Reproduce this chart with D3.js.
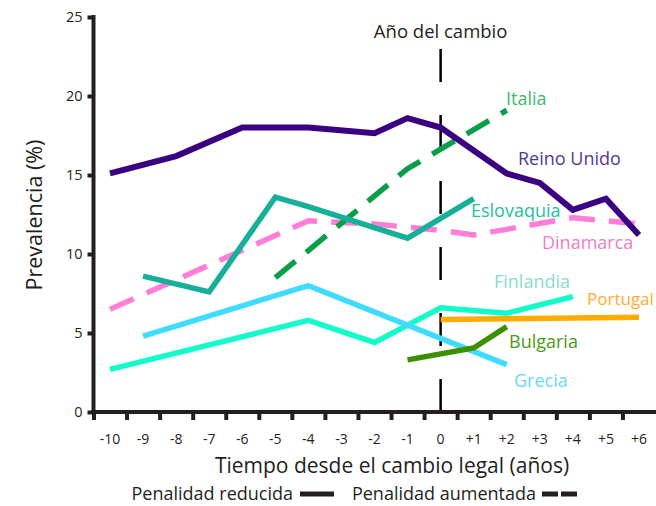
<!DOCTYPE html>
<html>
<head>
<meta charset="utf-8">
<script src="https://cdn.jsdelivr.net/npm/d3@7"></script>
<style>
  body { margin: 0; background: #fff; }
  text { font-family: "Open Sans", Lato, sans-serif; }
</style>
</head>
<body>
<script>
// years relative to the legal change, and prevalence (%)
const reinoUnidoT = [-10, -8, -6, -4, -2, -1, 0, 2, 3, 4, 5, 6];
const reinoUnidoV = [15.1, 16.2, 18.0, 18.0, 17.65, 18.6, 18.0, 15.1, 14.5, 12.8, 13.5, 11.2];

const eslovaquiaT = [-9, -7, -5, -4, -1, 1];
const eslovaquiaV = [8.6, 7.6, 13.6, 13.0, 11.0, 13.5];

const dinamarcaT = [-10, -4, -2, 0, 1, 4, 6];
const dinamarcaV = [6.5, 12.1, 11.9, 11.5, 11.2, 12.3, 11.9];

const italiaT = [-5, -1, 2];
const italiaV = [8.5, 15.4, 19.1];

const finlandiaT = [-10, -4, -2, 0, 2, 4];
const finlandiaV = [2.7, 5.8, 4.4, 6.6, 6.25, 7.3];

const greciaT = [-9, -4, 2];
const greciaV = [4.8, 8.0, 3.0];

const portugalT = [0, 6];
const portugalV = [5.85, 6.0];

const bulgariaT = [-1, 1, 2];
const bulgariaV = [3.3, 4.05, 5.4];

const xTickLabels = ["-10","-9","-8","-7","-6","-5","-4","-3","-2","-1","0","+1","+2","+3","+4","+5","+6"];
const yTicks = [0, 5, 10, 15, 20, 25];

const series = [
  {name: "Dinamarca", t: dinamarcaT, v: dinamarcaV, color: "#ff7ed8", label: "#f27cc6", dashed: true, lx: 542, ly: 249},
  {name: "Italia", t: italiaT, v: italiaV, color: "#0b9e48", label: "#36bb6c", dashed: true, lx: 506, ly: 105},
  {name: "Eslovaquia", t: eslovaquiaT, v: eslovaquiaV, color: "#15b097", label: "#1dbf9f", dashed: false, lx: 471, ly: 217},
  {name: "Finlandia", t: finlandiaT, v: finlandiaV, color: "#14fbcb", label: "#86ddcc", dashed: false, lx: 494, ly: 288},
  {name: "Grecia", t: greciaT, v: greciaV, color: "#40dcff", label: "#6cd8f4", dashed: false, lx: 514, ly: 387},
  {name: "Portugal", t: portugalT, v: portugalV, color: "#ffab00", label: "#ffad2e", dashed: false, lx: 587, ly: 305, size: 17},
  {name: "Bulgaria", t: bulgariaT, v: bulgariaV, color: "#3c9000", label: "#4a9a14", dashed: false, lx: 509, ly: 348},
  {name: "Reino Unido", t: reinoUnidoT, v: reinoUnidoV, color: "#3a0082", label: "#4f3b94", dashed: false, lx: 518, ly: 165}
];

const W = 656, H = 506;
const axisColor = "#231f20";

const svg = d3.select("body").append("svg")
    .attr("width", W)
    .attr("height", H);

const x = d3.scaleLinear().domain([-10.5, 6.5]).range([93.5, 655.5]);
const y = d3.scaleLinear().domain([0, 25]).range([412, 17]);

// change-year marker
svg.append("line")
    .attr("x1", x(0)).attr("x2", x(0))
    .attr("y1", 49).attr("y2", 412)
    .attr("stroke", "#000")
    .attr("stroke-width", 2.5)
    .attr("stroke-dasharray", "33,33");

svg.append("text")
    .attr("x", x(0)).attr("y", 38)
    .attr("text-anchor", "middle")
    .attr("font-size", 18.5)
    .attr("fill", "#231f20")
    .text("Año del cambio");

// lines
const line = d3.line()
    .x(d => x(d[0]))
    .y(d => y(d[1]));

series.forEach(s => {
  const pts = s.t.map((t, i) => [t, s.v[i]]);
  svg.append("path")
      .datum(pts)
      .attr("fill", "none")
      .attr("stroke", s.color)
      .attr("stroke-width", s.name == "Reino Unido" ? 6 : 5.5)
      .attr("stroke-dasharray", s.dashed ? "26,14" : null)
      .attr("d", line);

  svg.append("text")
      .attr("x", s.lx).attr("y", s.ly)
      .attr("font-size", s.size || 18)
      .attr("fill", s.label)
      .text(s.name);
});

// x axis: ticks sit between the years, labels on the years
const xAxis = d3.axisBottom(x)
    .tickValues(d3.range(-10.5, 6.5, 1))
    .tickSize(8)
    .tickFormat("");

const gx = svg.append("g")
    .attr("transform", "translate(0,412)")
    .call(xAxis);
gx.select(".domain").remove();
gx.selectAll(".tick line").attr("stroke", axisColor).attr("stroke-width", 4);

svg.append("line")
    .attr("x1", 91.5).attr("x2", W)
    .attr("y1", 412).attr("y2", 412)
    .attr("stroke", axisColor).attr("stroke-width", 4);

svg.append("g").selectAll("text")
    .data(xTickLabels)
    .join("text")
    .attr("x", (d, i) => x(i - 10))
    .attr("y", 444)
    .attr("text-anchor", "middle")
    .attr("font-size", 14)
    .attr("fill", axisColor)
    .text(d => d);

// y axis
const yAxis = d3.axisLeft(y)
    .tickValues(yTicks)
    .tickSize(6)
    .tickPadding(5);

const gy = svg.append("g")
    .attr("transform", "translate(93.5,0)")
    .call(yAxis);
gy.select(".domain").remove();
gy.selectAll(".tick line").attr("stroke", axisColor).attr("stroke-width", 4);
gy.selectAll(".tick text")
    .attr("font-size", 14.5)
    .attr("fill", axisColor)
    .style("font-family", "'Open Sans', Lato, sans-serif");

svg.append("line")
    .attr("x1", 93.5).attr("x2", 93.5)
    .attr("y1", 15).attr("y2", 414)
    .attr("stroke", axisColor).attr("stroke-width", 4);

// axis titles
svg.append("text")
    .attr("x", 392).attr("y", 473)
    .attr("text-anchor", "middle")
    .attr("font-size", 21)
    .attr("fill", axisColor)
    .text("Tiempo desde el cambio legal (años)");

svg.append("text")
    .attr("transform", "translate(42,215) rotate(-90)")
    .attr("text-anchor", "middle")
    .attr("font-size", 21.5)
    .attr("fill", axisColor)
    .text("Prevalencia (%)");

// legend
svg.append("text")
    .attr("x", 293).attr("y", 500)
    .attr("text-anchor", "end")
    .attr("font-size", 18)
    .attr("fill", axisColor)
    .text("Penalidad reducida");
svg.append("line")
    .attr("x1", 300).attr("x2", 334)
    .attr("y1", 494).attr("y2", 494)
    .attr("stroke", axisColor).attr("stroke-width", 5);

svg.append("text")
    .attr("x", 536).attr("y", 500)
    .attr("text-anchor", "end")
    .attr("font-size", 18)
    .attr("fill", axisColor)
    .text("Penalidad aumentada");
svg.append("line")
    .attr("x1", 542).attr("x2", 577)
    .attr("y1", 494).attr("y2", 494)
    .attr("stroke", axisColor).attr("stroke-width", 5)
    .attr("stroke-dasharray", "16,3");
</script>
</body>
</html>
